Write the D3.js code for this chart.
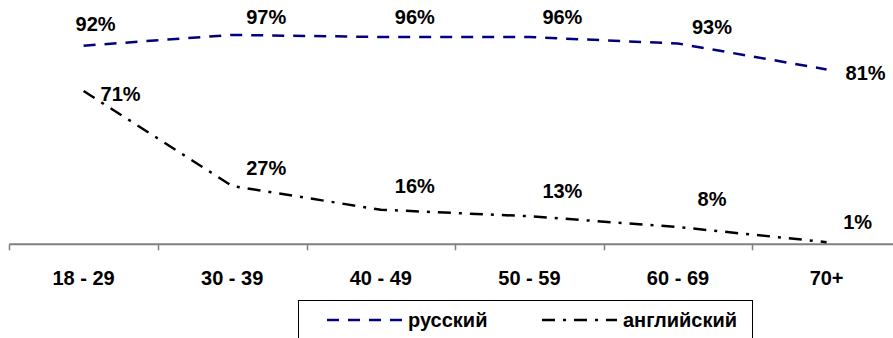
<!DOCTYPE html>
<html>
<head>
<meta charset="utf-8">
<script src="https://cdn.jsdelivr.net/npm/d3@7"></script>
<style>
  html, body { margin: 0; padding: 0; background: #fff; }
  svg { display: block; }
  text { font-family: Arial, "Liberation Sans", sans-serif; font-weight: bold; fill: #000; }
</style>
</head>
<body>
<svg id="chart" width="893" height="338"></svg>
<script>
// Age groups on the x axis
const categories = ["18 - 29", "30 - 39", "40 - 49", "50 - 59", "60 - 69", "70+"];
// Share of respondents, %
const russianValues = [92, 97, 96, 96, 93, 81];
const englishValues = [71, 27, 16, 13, 8, 1];
const seriesNames = ["русский", "английский"];

// Hand-placed data-label nudges (label centre / baseline relative to the point)
const russianLabelDx = [12, 34, 34, 33, 34, 39];
const russianLabelDy = [-15, -11, -13, -13, -10, 11];
const englishLabelDx = [37, 34, 34, 33, 34, 31];
const englishLabelDy = [10, -11, -17, -18, -21, -13];

const svg = d3.select("#chart");

const x = d3.scaleBand().domain(categories).range([9.3, 900.9]).paddingInner(0).paddingOuter(0);
const y = d3.scaleLinear().domain([0, 100]).range([244.3, 28.4]);
const cx = c => x(c) + x.bandwidth() / 2;

// Category axis: grey baseline with ticks between groups
const axisY = y(0);
const axisG = svg.append("g").attr("transform", `translate(0,${axisY})`);
axisG.append("line")
  .attr("x1", 9.3).attr("x2", 893)
  .attr("stroke", "#808080").attr("stroke-width", 2);
axisG.selectAll("line.tick")
  .data(categories)
  .join("line")
  .attr("class", "tick")
  .attr("x1", d => Math.round(x(d)) + 0.5).attr("x2", d => Math.round(x(d)) + 0.5)
  .attr("y1", 0).attr("y2", 6)
  .attr("stroke", "#808080").attr("stroke-width", 1.5);
axisG.selectAll("text.cat")
  .data(categories)
  .join("text")
  .attr("class", "cat")
  .attr("x", d => cx(d))
  .attr("y", 41)
  .attr("text-anchor", "middle")
  .style("font-size", "20px")
  .text(d => d);

const line = d3.line()
  .x(d => cx(d.c))
  .y(d => y(d.v))
  .curve(d3.curveLinear);

const series = [
  { name: seriesNames[0], values: russianValues, color: "#000080", dash: "12,9", dx: russianLabelDx, dy: russianLabelDy },
  { name: seriesNames[1], values: englishValues, color: "#000000", dash: "13,8,3,8", dx: englishLabelDx, dy: englishLabelDy }
];

series.forEach(s => {
  const pts = categories.map((c, i) => ({ c, v: s.values[i] }));
  svg.append("path")
    .datum(pts)
    .attr("d", line)
    .attr("fill", "none")
    .attr("stroke", s.color)
    .attr("stroke-width", 2.5)
    .attr("stroke-dasharray", s.dash);

  svg.append("g").selectAll("text")
    .data(pts)
    .join("text")
    .attr("x", (d, i) => cx(d.c) + s.dx[i])
    .attr("y", (d, i) => y(d.v) + s.dy[i])
    .attr("text-anchor", "middle")
    .style("font-size", "20px")
    .text(d => d.v + "%");
});

// Legend box along the bottom edge
const legend = svg.append("g");
legend.append("rect")
  .attr("x", 298.5).attr("y", 300.5)
  .attr("width", 454).attr("height", 45)
  .attr("fill", "#fff").attr("stroke", "#000").attr("stroke-width", 1);

const legendItems = [
  { x0: 327, x1: 403, tx: 408 },
  { x0: 542, x1: 617, tx: 623 }
];
series.forEach((s, i) => {
  const it = legendItems[i];
  legend.append("line")
    .attr("x1", it.x0).attr("x2", it.x1)
    .attr("y1", 320).attr("y2", 320)
    .attr("stroke", s.color).attr("stroke-width", 2.5)
    .attr("stroke-dasharray", s.dash);
  legend.append("text")
    .attr("x", it.tx).attr("y", 327)
    .style("font-size", "20px")
    .text(s.name);
});
</script>
</body>
</html>
